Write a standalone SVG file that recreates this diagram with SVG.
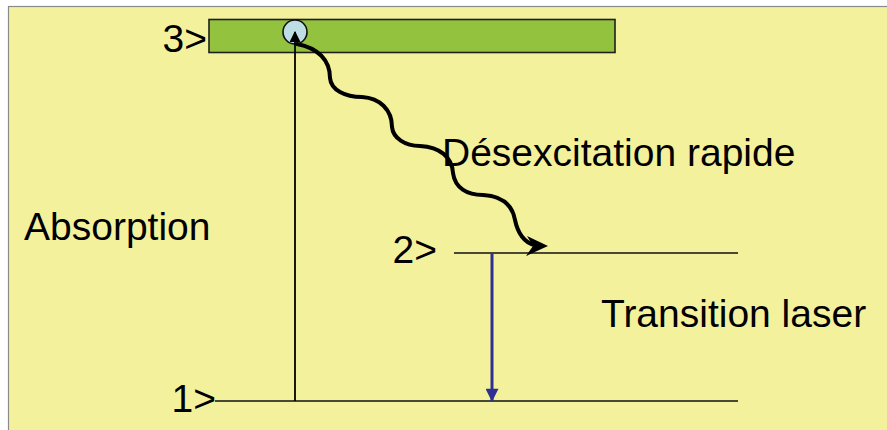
<svg xmlns="http://www.w3.org/2000/svg" width="887" height="430" viewBox="0 0 887 430">
<style>
.t{font-family:"Liberation Sans",Arial,sans-serif;font-size:39px;fill:#000}
.lvl{stroke:#111;stroke-width:1.6;fill:none}
</style>
<defs>
<marker id="ab" viewBox="0 0 10 10" refX="9" refY="5" markerWidth="11" markerHeight="11" markerUnits="userSpaceOnUse" orient="auto"><path d="M0,0 L10,5 L0,10 Z" fill="#000"/></marker>
<marker id="bl" viewBox="0 0 10 10" refX="9.5" refY="5" markerWidth="15" markerHeight="13" markerUnits="userSpaceOnUse" orient="auto"><path d="M0,0 L10,5 L0,10 Z" fill="#2E3192"/></marker>
</defs>
<rect x="0" y="0" width="887" height="430" fill="#ffffff"/>
<rect x="8.5" y="6.5" width="880" height="425" fill="#F4F19D" stroke="#8a8a8a" stroke-width="1.2"/>
<g id="level3">
<rect x="209" y="19.5" width="406" height="33" fill="#93C23F" stroke="#1e1e1e" stroke-width="1.6"/>
<text class="t" x="207" y="52" text-anchor="end">3&gt;</text>
</g>
<g id="level2">
<line class="lvl" x1="454" y1="253" x2="738" y2="253"/>
<text class="t" x="437" y="263" text-anchor="end">2&gt;</text>
</g>
<g id="level1">
<line class="lvl" x1="215" y1="401" x2="738" y2="401"/>
<text class="t" x="216" y="412" text-anchor="end">1&gt;</text>
</g>
<g id="electron">
<circle cx="295" cy="32" r="12" fill="#BEDEE5" stroke="#111" stroke-width="1.6"/>
</g>
<g id="connectors">
<line x1="295" y1="401" x2="295" y2="32" stroke="#000" stroke-width="1.8" marker-end="url(#ab)"/>
<path d="M 297 44 C 318 48, 330 60, 330 78 C 331 90, 345 97, 362 97 C 380 98, 392 110, 392 127 C 393 138, 405 146, 420 146 C 440 147, 452 157, 453 173 C 455 188, 467 195, 483 195 C 500 196, 512 203, 515 220 C 518 234, 524 242, 534 245" fill="none" stroke="#000" stroke-width="4" stroke-linecap="round"/>
<path d="M 548 246 L 527 236 L 533 246 L 526 256 Z" fill="#000"/>
<line x1="492" y1="253" x2="492" y2="401" stroke="#2E3192" stroke-width="3" marker-end="url(#bl)"/>
</g>
<g id="labels">
<text class="t" x="24" y="240">Absorption</text>
<text class="t" x="442" y="166">Désexcitation rapide</text>
<text class="t" x="601" y="327">Transition laser</text>
</g>
</svg>
